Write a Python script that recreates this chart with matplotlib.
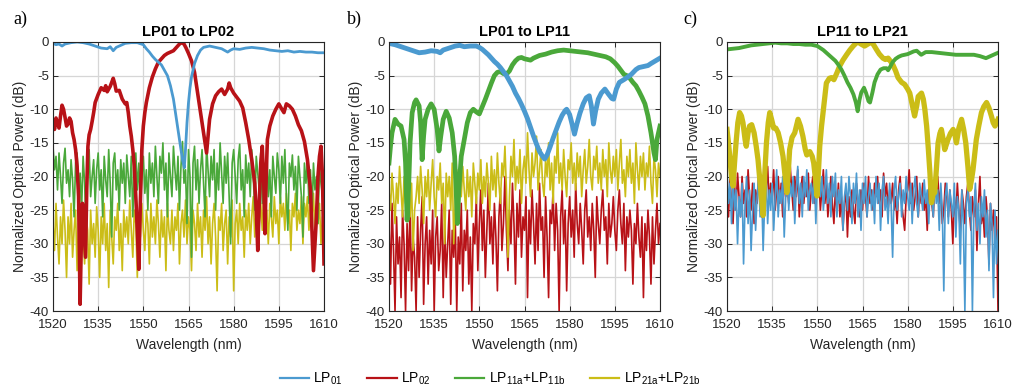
import numpy as np
import matplotlib
matplotlib.use("Agg")
import matplotlib.pyplot as plt
from matplotlib.lines import Line2D

plt.rcParams['font.family'] = ['Liberation Sans', 'DejaVu Sans']
plt.rcParams['axes.unicode_minus'] = False
plt.rcParams['mathtext.fontset'] = 'custom'
plt.rcParams['mathtext.rm'] = 'Liberation Sans'
plt.rcParams['mathtext.it'] = 'Liberation Sans'

BLUE = '#4b9ad0'
RED = '#b81217'
GREEN = '#4aa83a'
YELLOW = '#cbbd17'

# common sampling grid of the noisy traces (nm)
wl_noise = np.arange(1520, 1610.01, 0.5)

# ---------------- panel a: LP01 to LP02 ----------------
a_lp01_wl = [1520, 1521, 1522, 1523, 1524, 1526, 1528, 1530, 1532, 1534, 1536, 1538, 1539, 1540,
             1541, 1542, 1544, 1546, 1548, 1550, 1551, 1552, 1553, 1554, 1555, 1556, 1557, 1558,
             1559, 1560, 1561, 1562, 1563, 1563.6, 1564, 1564.5, 1565, 1565.5, 1566, 1567, 1568,
             1569, 1570, 1572, 1574, 1576, 1578, 1579, 1580, 1582, 1584, 1586, 1588, 1590, 1592,
             1594, 1596, 1598, 1600, 1602, 1604, 1606, 1608, 1610]
a_lp01 = [-0.2, -0.4, -0.3, -0.6, -0.3, -0.1, 0, -0.1, -0.3, -0.6, -0.9, -1.0, -0.7, -1.3,
          -0.8, -0.6, -0.2, -0.1, -0.1, -0.4, -1.0, -1.5, -2.1, -2.6, -3.0, -3.4, -4.2, -5.0,
          -6.5, -8.5, -11.5, -14.5, -17.5, -18.7, -16, -12, -9, -6.8, -5.2, -3.2, -2.0,
          -1.2, -0.8, -0.6, -0.8, -1.0, -1.5, -1.2, -1.0, -1.1, -0.9, -0.8, -0.9, -1.0, -1.2,
          -1.3, -1.4, -1.3, -1.5, -1.4, -1.5, -1.5, -1.6, -1.6]

a_lp02_wl = [1520, 1520.5, 1521, 1521.5, 1522, 1522.5, 1523, 1523.5, 1524, 1524.5, 1525, 1525.5,
             1526, 1526.5, 1527, 1527.5, 1528, 1528.5, 1529, 1529.4, 1529.8, 1530.3, 1530.8,
             1531.2, 1531.6, 1532, 1532.5, 1533, 1533.5, 1534, 1535, 1536, 1537, 1537.5, 1538,
             1539, 1540, 1540.5, 1541, 1542, 1543, 1544, 1544.5, 1545, 1545.5, 1546, 1546.5,
             1547, 1547.5, 1548, 1548.5, 1549, 1549.5, 1550, 1550.5, 1551, 1552, 1553, 1554,
             1555, 1556, 1557, 1558, 1559, 1560, 1561, 1562, 1562.7, 1563.5, 1564.2, 1565, 1566,
             1567, 1568, 1569, 1570, 1570.5, 1571, 1571.5, 1572, 1573, 1574, 1575, 1576, 1577,
             1578, 1578.5, 1579, 1580, 1581, 1582, 1583, 1584, 1585, 1586, 1587, 1587.5, 1588,
             1588.5, 1589, 1589.5, 1590, 1590.4, 1590.8, 1591.2, 1592, 1593, 1594, 1595, 1596,
             1596.7, 1597.5, 1598.5, 1599.5, 1600.5, 1601.5, 1602.5, 1603.5, 1604.5, 1605.5,
             1606, 1606.5, 1607, 1607.5, 1608, 1608.5, 1609, 1609.5, 1610]
a_lp02 = [-12, -13, -11.3, -12.2, -12.8, -11, -9.4, -10, -11.2, -12.5, -12.2, -11.3,
          -11.8, -13.5, -14.5, -16, -18.5, -23, -39, -30, -24, -28, -32,
          -22, -15.5, -13.8, -13, -11.8, -10.5, -9, -7.8, -6.8, -7.2, -6.5, -7.4,
          -6.6, -5.4, -6.2, -7.3, -7.2, -8.5, -9.2, -9.0, -10.5, -12.5, -14, -16,
          -18.5, -23, -28, -33.8, -24, -16, -12.5, -10.5, -9, -6.8, -5.2, -4.0,
          -3.0, -2.5, -2.0, -1.7, -1.5, -1.3, -0.8, -0.3, -0.1, -0.3, -0.9, -1.7, -2.8,
          -4.5, -7.5, -10.5, -13.5, -15, -16.5, -14, -11.5, -9.2, -8, -7.4, -7.0, -7.8,
          -7.0, -6.1, -6.8, -7.6, -8.2, -8.8, -9.8, -12, -14.5, -17.5, -21, -25, -31,
          -24, -18, -15.5, -21, -28.5, -20, -14.5, -12.5, -11, -10, -9.2, -10,
          -10.5, -9.2, -9.5, -10, -11, -12.3, -13.2, -14.8, -17.5, -22,
          -28, -34, -30, -26, -20, -17, -15.5, -20, -33]

a_lp11 = [-15.5, -19, -17, -22, -16.5, -20, -24, -18, -15.8, -21,
          -19, -23, -17.5, -20.5, -26, -18, -16.5, -22, -19.5, -25,
          -17, -21, -28, -18.5, -16, -23, -20, -17.5, -24, -19,
          -16.5, -22, -19, -26, -17, -20.5, -23, -16, -21, -29,
          -18, -16.5, -22, -19, -25, -17.5, -21, -18, -24, -16.8,
          -20, -23, -17, -26, -19.5, -16.5, -22, -18, -24.5, -20,
          -17, -22.5, -19, -25, -16.5, -21, -18, -23, -15.5, -20,
          -24, -17, -19.5, -15, -22, -18, -26, -16.5, -20, -23,
          -15.5, -19, -22, -17, -25, -18.5, -14.8, -21, -19, -27,
          -16, -20, -32, -18, -15.5, -22, -17.5, -24, -19, -16,
          -21, -26, -15.2, -19, -23, -17, -20.5, -16, -25, -18,
          -22, -15, -19.5, -24, -17, -21, -16.5, -23, -30, -18,
          -16, -20, -24, -17.5, -15.2, -22, -19, -26, -16.8, -21,
          -18, -23, -16, -20, -25, -17, -19.5, -22, -16.5, -24,
          -18, -21, -15.8, -23, -19, -26, -17, -20, -22.5, -16.5,
          -19, -24, -17, -21, -16, -23, -28, -18, -20, -16.8,
          -22, -18.5, -25, -17, -20, -23, -29, -18, -21, -17.5,
          -24, -19, -26, -18, -22, -20, -27, -18.5, -21, -23,
          -20]

a_lp21 = [-27, -31, -24, -29, -33, -26, -30, -23.5, -28, -35,
          -26, -30, -24, -32, -28, -25, -34, -27, -31, -24,
          -29, -33, -26, -28, -36, -25, -30, -27, -32, -24.5,
          -28, -35, -26, -30, -24, -31, -27, -36.5, -25, -29,
          -33, -26, -28, -24, -31, -27, -34, -25, -29, -26,
          -30, -23.5, -28, -32, -25, -27, -35, -26, -29, -24,
          -28, -31, -25, -27, -33, -24, -29, -26, -30, -23.5,
          -27, -32, -25, -29, -26, -34, -24, -28, -30, -25,
          -31, -26, -28, -24, -33, -27, -25, -29, -23.5, -30,
          -26, -28, -34, -25, -27, -31, -24, -29, -26, -32,
          -25, -28, -23, -30, -26, -33, -27, -24, -29, -37,
          -26, -28, -24, -31, -27, -25, -33, -26, -29, -23.5,
          -37, -27, -25, -30, -24, -28, -26, -32, -25, -28,
          -24, -30, -26, -23, -29, -25, -31, -27, -24, -28,
          -22.5, -27, -25, -30, -24, -26, -29, -23, -27, -25,
          -30, -23, -26, -24, -28, -22.5, -27, -25, -31, -24,
          -26, -22.5, -28, -25, -27, -23, -30, -24, -26, -23,
          -28, -24, -26, -22.5, -29, -25, -27, -24, -30, -26,
          -28]

# ---------------- panel b: LP01 to LP11 ----------------
b_lp01_wl = [1520, 1522, 1524, 1526, 1528, 1530, 1532, 1534, 1536, 1537, 1538, 1540, 1542, 1543.5,
             1545, 1547, 1549, 1550, 1551, 1552, 1553, 1554, 1555, 1556, 1557, 1558, 1559, 1560,
             1561, 1562, 1563, 1564, 1565, 1566, 1567, 1568, 1569, 1570, 1571, 1571.7, 1572.5,
             1573.5, 1574.5, 1575.5, 1576.5, 1577.5, 1578.5, 1579, 1580, 1580.8, 1581.6, 1582.4,
             1583.4, 1584.5, 1585.5, 1586.5, 1587.2, 1587.9, 1588.6, 1589.5, 1590.5, 1591.7,
             1592.8, 1594, 1594.6, 1595.5, 1596.5, 1598, 1599, 1600.5, 1602, 1603, 1605, 1606,
             1607, 1608.5, 1610]
b_lp01 = [-0.2, -0.4, -0.7, -1.0, -1.3, -1.6, -1.5, -1.3, -1.4, -1.6, -1.2, -0.9, -0.6, -0.5,
          -0.7, -0.6, -0.6, -0.8, -1.1, -1.5, -1.9, -2.4, -2.9, -3.3, -3.8, -4.4, -5.0, -5.8,
          -6.6, -7.6, -8.4, -9.3, -10.3, -11.4, -12.7, -14, -15.2, -16.3, -17.0, -17.4, -16.8,
          -15.6, -14.3, -13.1, -11.9, -10.9, -10.2, -10, -10.8, -12.2, -13.7, -12.2,
          -10.6, -9.2, -8.3, -8.0, -9.5, -12.2, -10.3, -8.5, -7.6, -7.0,
          -7.7, -8.4, -8.5, -7.0, -6.0, -5.6, -5.3, -4.8, -4.1, -3.8, -3.6, -3.5,
          -3.2, -2.8, -2.4]

b_lp11_wl = [1520, 1520.5, 1521, 1522, 1523, 1524, 1525, 1525.5, 1526, 1526.5, 1527, 1527.7, 1528.5,
             1529, 1530, 1530.5, 1531, 1531.5, 1532, 1533, 1534, 1535, 1536, 1536.6, 1537.2, 1538,
             1539, 1540, 1541, 1541.8, 1542.3, 1542.7, 1543.2, 1544, 1545, 1546, 1547, 1548, 1549,
             1550, 1551, 1552, 1553, 1554, 1555, 1556, 1557, 1558, 1559, 1560, 1561, 1562, 1563,
             1564, 1565, 1566, 1567, 1568, 1570, 1572, 1574, 1576, 1578, 1580, 1582, 1584, 1586,
             1588, 1590, 1592, 1593.5, 1595, 1596, 1597, 1598, 1599, 1600, 1601, 1602, 1603, 1604,
             1605, 1606, 1607, 1608, 1608.5, 1609, 1610]
b_lp11 = [-18, -15.5, -13.5, -11.5, -12.2, -12.5, -14.5, -18, -26.5, -22, -15, -10.5, -9,
          -8.6, -9.5, -12, -17.5, -14, -11.5, -10, -9.2, -10, -13, -16.2, -14, -11.5,
          -10.3, -11.3, -13.5, -17, -22, -27, -22, -17, -14.5, -12, -10.5, -10, -10.4,
          -10.7, -9.6, -8.5, -7.3, -6.1, -5, -4.5, -4.4, -4.7, -4.8, -4.3, -3.4, -2.8, -2.4,
          -2.3, -2.5, -2.6, -2.7, -2.4, -2.0, -1.8, -1.5, -1.3, -1.2, -1.3, -1.4, -1.5, -1.6,
          -1.8, -2.0, -2.2, -2.5, -3.1, -3.6, -4.2, -4.8, -5.0, -5.4, -6.0, -6.5, -7.3, -8.2,
          -9.2, -11, -13.5, -16.5, -17.5, -14.5, -12.5]

b_lp02 = [-27, -36, -24, -31, -40, -26, -33, -29, -38, -25,
          -30, -40, -27, -34, -24, -37, -29, -32, -40, -26,
          -35, -28, -23, -39, -30, -26, -36, -28, -33, -25,
          -40, -29, -26, -34, -31, -24, -38, -27, -35, -30,
          -25, -39, -28, -32, -26, -40, -29, -33, -24, -37,
          -28, -31, -25, -36, -29, -40, -27, -30, -23, -34,
          -27, -22, -31, -25, -35, -28, -21, -30, -26, -33,
          -24, -29, -37, -26, -22, -31, -27, -20, -28, -34,
          -25, -30, -21, -27, -36, -24, -29, -22, -32, -26,
          -28, -23, -38, -25, -30, -22, -27, -33, -24, -31,
          -21, -28, -26, -35, -23, -29, -38, -25, -27, -22,
          -31, -24, -28, -40, -26, -22, -30, -25, -37, -27,
          -23, -29, -25, -32, -21, -27, -30, -24, -28, -33,
          -25, -22, -29, -26, -31, -24, -28, -35, -23, -27,
          -30, -25, -22, -28, -26, -33, -24, -29, -27, -23,
          -28, -31, -25, -22, -27, -30, -24, -34, -26, -29,
          -25, -28, -36, -27, -30, -24, -29, -32, -26, -38,
          -27, -31, -25, -29, -36, -26, -33, -28, -24, -30,
          -27]

b_lp21 = [-22, -25, -19.5, -23, -27, -21, -24, -18.5, -22, -26,
          -20, -24, -18, -22, -26, -21, -31, -25, -23, -20,
          -24, -18.5, -22, -27, -20, -23, -19, -25, -21, -17.5,
          -23, -26, -20, -22, -18, -24, -21, -30, -19.5, -23,
          -20, -25, -18, -30, -24, -19, -26, -21, -23, -18.5,
          -22, -25, -19, -23, -20, -26, -18, -21, -24, -19.5,
          -22, -17.5, -24, -20, -23, -18, -21, -25, -17, -22,
          -19, -23, -16.5, -21, -24, -18, -20, -15.5, -22, -32,
          -23, -17, -20, -14.5, -22, -18.5, -21, -16, -24, -19,
          -17, -21, -13.5, -19, -23, -16.5, -20, -18, -14, -22,
          -19, -16, -21, -23, -17.5, -20, -15, -22, -18, -24,
          -17, -19.5, -13.5, -21, -18, -22, -16, -20, -23, -17.5,
          -19, -15, -21, -18, -22, -16.5, -20, -17, -23, -19,
          -16, -21, -18.5, -14.5, -20, -22, -17, -19, -15.5, -21,
          -18, -22, -16, -20, -17.5, -23, -15, -19, -21, -17,
          -20, -16, -22, -18, -14.5, -21, -19, -23, -17, -20,
          -16, -21, -18, -24, -15, -19, -22, -17, -20, -16.5,
          -22, -18, -20, -15.5, -21, -24, -17, -19, -23, -18,
          -20]

# ---------------- panel c: LP11 to LP21 ----------------
c_lp11_wl = [1520, 1522, 1524, 1526, 1528, 1530, 1532, 1534, 1536, 1538, 1540, 1542, 1544, 1546,
             1548, 1550, 1551, 1552, 1553, 1554, 1555, 1556, 1557, 1558, 1559, 1560, 1561, 1562,
             1562.8, 1563.4, 1564, 1564.6, 1565.5, 1566.2, 1567, 1567.5, 1568.3, 1569, 1570, 1571,
             1572, 1573, 1573.5, 1574.3, 1575, 1576, 1577, 1578, 1580, 1582, 1583, 1584.5, 1586,
             1588, 1590, 1592, 1594, 1596, 1598, 1600, 1602, 1604, 1606, 1608, 1610]
c_lp11 = [-1.1, -1.0, -0.9, -0.7, -0.5, -0.4, -0.3, -0.2, -0.1, -0.2, -0.2, -0.3, -0.3, -0.4,
          -0.4, -0.6, -0.9, -1.2, -1.6, -2.0, -2.4, -2.8, -3.4, -4.1, -5.0, -6.0, -6.8, -7.8,
          -9, -10.3, -8.6, -7.5, -6.8, -7.6, -8.8, -9.0, -7.5, -6.0, -4.8, -4.1,
          -3.9, -3.9, -4.2, -3.6, -3.0, -2.5, -2.2, -2.0, -1.8, -1.4, -1.3, -1.9, -1.5,
          -1.5, -1.6, -1.7, -1.8, -1.9, -1.9, -1.9, -1.9, -2.1, -2.4, -2.0, -1.6]

c_lp21_wl = [1520, 1520.5, 1521, 1521.5, 1522, 1522.5, 1523, 1523.6, 1524.2, 1524.8, 1525.3, 1526,
             1526.4, 1527, 1527.5, 1528.2, 1529, 1529.7, 1530.3, 1531, 1531.6, 1532, 1532.5,
             1533.1, 1533.7, 1534.2, 1534.8, 1535.5, 1536.2, 1537, 1537.8, 1538.6, 1539.3,
             1539.9, 1540.4, 1540.8, 1541.6, 1542.5, 1543.6, 1544.4, 1545.2, 1546, 1546.5,
             1547.5, 1548.3, 1548.8, 1549.4, 1549.9, 1550.4, 1550.8, 1551.4, 1551.9, 1552.5,
             1553, 1554, 1554.7, 1555.5, 1556.5, 1557.4, 1558.5, 1559.7, 1560.8, 1561.9, 1562.8,
             1563.5, 1564.5, 1565.7, 1566.8, 1568, 1568.8, 1569.6, 1570.6, 1571.8, 1572.6,
             1573.5, 1574.2, 1575.1, 1576, 1576.8, 1578, 1579, 1580, 1580.7, 1581.5, 1582.3,
             1583, 1583.5, 1584.6, 1585.2, 1585.7, 1586.3, 1586.8, 1587.4, 1587.9, 1588.5, 1589,
             1589.6, 1590.1, 1590.7, 1591.2, 1591.8, 1592.3, 1592.9, 1593.4, 1594.2, 1595.1,
             1595.7, 1596.2, 1597, 1597.9, 1598.6, 1599.3, 1600, 1600.6, 1601.2, 1601.7, 1602.3,
             1602.8, 1603.6, 1604.5, 1605.3, 1606.2, 1607, 1607.8, 1608.4, 1609, 1609.5, 1610]
c_lp21 = [-13, -15, -17.5, -20, -21.4, -18, -15, -12, -10.5, -11, -12, -14.5,
          -15.5, -13.5, -12.5, -12.3, -13.5, -15.5, -17.5, -21, -24, -25.8, -20,
          -15, -12, -10.5, -11.5, -12.8, -12.8, -13.5, -15, -17, -20,
          -22.4, -19, -16, -14.2, -13.5, -11.5, -12.5, -14, -16, -16.8,
          -16.3, -17, -18, -20.5, -22.9, -19, -15.5, -12.5, -10.5, -8,
          -6.1, -5.4, -5.3, -5.6, -4.6, -3.6, -2.7, -1.9, -1.2, -0.6, -0.2,
          0, -0.3, -0.6, -0.3, 0, -0.5, -1.1, -1.8, -2.4, -2.6,
          -2.4, -2.8, -3.4, -4.3, -5.3, -6.0, -6.3, -7.0, -7.6, -9.3, -11,
          -9.5, -8.1, -7.6, -8.5, -10, -12.5, -15.5, -19.5, -23.9, -22.5, -22.4,
          -18.5, -15, -13.6, -13, -14.5, -16, -15.2, -14.5, -13.6, -13,
          -13.8, -15, -12.8, -11.5, -13, -15, -18.5, -21.9, -20.5, -19, -16.5,
          -14.5, -12.5, -10.5, -9.6, -9, -9.8, -11, -12, -12.5, -12, -11.5]

c_lp01 = [-19, -24, -21, -27, -20, -25, -22, -30, -23, -26,
          -21, -33, -24, -20, -27, -22, -31, -25, -21, -28,
          -23, -20, -26, -22, -31, -24, -19.5, -27, -22, -25,
          -21, -28, -23, -19, -26, -22, -24, -20, -29, -23,
          -19, -25, -21, -23, -20, -27, -22, -18.5, -24, -21,
          -26, -20, -23, -19, -25, -22, -21, -24, -19.5, -27,
          -21, -18.5, -23, -20, -25, -22, -19, -24, -21, -26,
          -20, -23, -19.5, -26, -22, -24, -20, -28, -23, -21,
          -25, -20, -23, -27, -21, -24, -19.5, -26, -22, -28,
          -21, -24, -20, -26, -23, -21, -25, -22, -27, -20,
          -24, -21, -28, -22, -20, -25, -23, -27, -21, -24,
          -32, -22, -20, -25, -23, -21, -26, -22, -24, -20,
          -23, -25, -21, -27, -22, -20, -24, -26, -21, -23,
          -25, -20.5, -24, -22, -27, -21, -23, -26, -20, -24,
          -22, -28, -21, -25, -37, -23, -21, -27, -22, -24,
          -26, -21, -29, -23, -25, -33, -22, -27, -40, -24,
          -22, -26, -23, -40, -25, -21, -28, -24, -30, -23,
          -26, -22, -29, -25, -34, -24, -27, -38, -25, -33,
          -28]

c_lp02 = [-22, -26, -20, -24, -27, -21, -25, -19.5, -23, -26,
          -20, -24, -22, -26, -19, -23, -25, -21, -27, -22,
          -24, -20, -23, -26, -21, -25, -22, -18.5, -24, -21,
          -23, -19, -25, -22, -20, -24, -21, -26, -19.5, -23,
          -21, -24, -18.5, -22, -25, -20, -23, -19, -26, -22,
          -20, -24, -21, -23, -19.5, -25, -22, -20, -24, -21,
          -23, -20, -25, -22, -19, -24, -21, -26, -23, -20,
          -24, -27, -22, -25, -21, -26, -23, -28, -24, -22,
          -29, -23, -26, -22, -25, -27, -21, -24, -26, -22,
          -25, -21, -23, -26, -20, -24, -22, -25, -21, -23,
          -20, -24, -22, -26, -19.5, -23, -21, -25, -22, -24,
          -21, -25, -23, -27, -22, -20, -24, -26, -28, -23,
          -22, -19, -24, -21, -25, -23, -20, -26, -22, -24,
          -21, -25, -23, -28, -22, -20, -24, -26, -21, -23,
          -20, -24, -22, -27, -25, -21, -23, -26, -22, -25,
          -30, -23, -26, -21, -25, -28, -22, -24, -27, -23,
          -21, -25, -28, -23, -26, -22, -31, -24, -20, -27,
          -25, -29, -23, -26, -33, -24, -28, -25, -30, -26,
          -40]

x_ticks = [1520, 1535, 1550, 1565, 1580, 1595, 1610]
y_ticks = [-40, -35, -30, -25, -20, -15, -10, -5, 0]

fig = plt.figure(figsize=(10.14, 3.92), dpi=100)
lefts = [53 / 1014, 389 / 1014, 727 / 1014]
w, h = 271 / 1014, 269 / 392
bottom = 1 - 311 / 392
titles = ['LP01 to LP02', 'LP01 to LP11', 'LP11 to LP21']
letters = ['a)', 'b)', 'c)']
letter_x = [13, 347, 683]
noise_lw = 1.2

axes = [fig.add_axes([l, bottom, w, h]) for l in lefts]

# panel a
ax = axes[0]
ax.plot(wl_noise, a_lp21, color=YELLOW, lw=noise_lw)
ax.plot(wl_noise, a_lp11, color=GREEN, lw=noise_lw)
ax.plot(a_lp02_wl, a_lp02, color=RED, lw=2.6)
ax.plot(a_lp01_wl, a_lp01, color=BLUE, lw=2.0)

# panel b
ax = axes[1]
ax.plot(wl_noise, b_lp02, color=RED, lw=noise_lw)
ax.plot(wl_noise, b_lp21, color=YELLOW, lw=noise_lw)
ax.plot(b_lp11_wl, b_lp11, color=GREEN, lw=3.4)
ax.plot(b_lp01_wl, b_lp01, color=BLUE, lw=3.5)

# panel c
ax = axes[2]
ax.plot(wl_noise, c_lp02, color=RED, lw=noise_lw)
ax.plot(wl_noise, c_lp01, color=BLUE, lw=noise_lw)
ax.plot(c_lp21_wl, c_lp21, color=YELLOW, lw=3.8)
ax.plot(c_lp11_wl, c_lp11, color=GREEN, lw=2.8)

for i, ax in enumerate(axes):
    ax.set_xlim(1520, 1610)
    ax.set_ylim(-40, 0)
    ax.set_xticks(x_ticks)
    ax.set_yticks(y_ticks)
    ax.grid(True, color='#d6d6d6', lw=0.9)
    ax.set_axisbelow(True)
    ax.tick_params(direction='in', top=True, right=True, length=3.5, width=0.7,
                   labelsize=9.5, colors='#262626')
    ax.tick_params(axis='x', pad=6)
    ax.tick_params(axis='y', pad=3)
    for s in ax.spines.values():
        s.set_color('#262626')
        s.set_linewidth(0.8)
    ax.set_title(titles[i], fontsize=10.5, fontweight='bold', pad=4)
    ax.set_xlabel('Wavelength (nm)', fontsize=10, color='#262626', labelpad=5)
    ax.set_ylabel('Normalized Optical Power (dB)', fontsize=10, color='#262626', labelpad=2)
    fig.text(letter_x[i] / 1014, 1 - 19 / 392, letters[i], fontsize=13,
             family='Liberation Serif', va='center', ha='left')

handles = [Line2D([], [], color=BLUE, lw=1.6), Line2D([], [], color=RED, lw=1.6),
           Line2D([], [], color=GREEN, lw=1.6), Line2D([], [], color=YELLOW, lw=1.6)]
labels = ['LP$_{01}$', 'LP$_{02}$', 'LP$_{11a}$+LP$_{11b}$', 'LP$_{21a}$+LP$_{21b}$']
fig.legend(handles, labels, loc='center', bbox_to_anchor=(490 / 1014, 1 - 379 / 392),
           ncol=4, frameon=False, fontsize=10, handlelength=2.1, handletextpad=0.3,
           columnspacing=1.8)

fig.savefig('out.png', dpi=100)
